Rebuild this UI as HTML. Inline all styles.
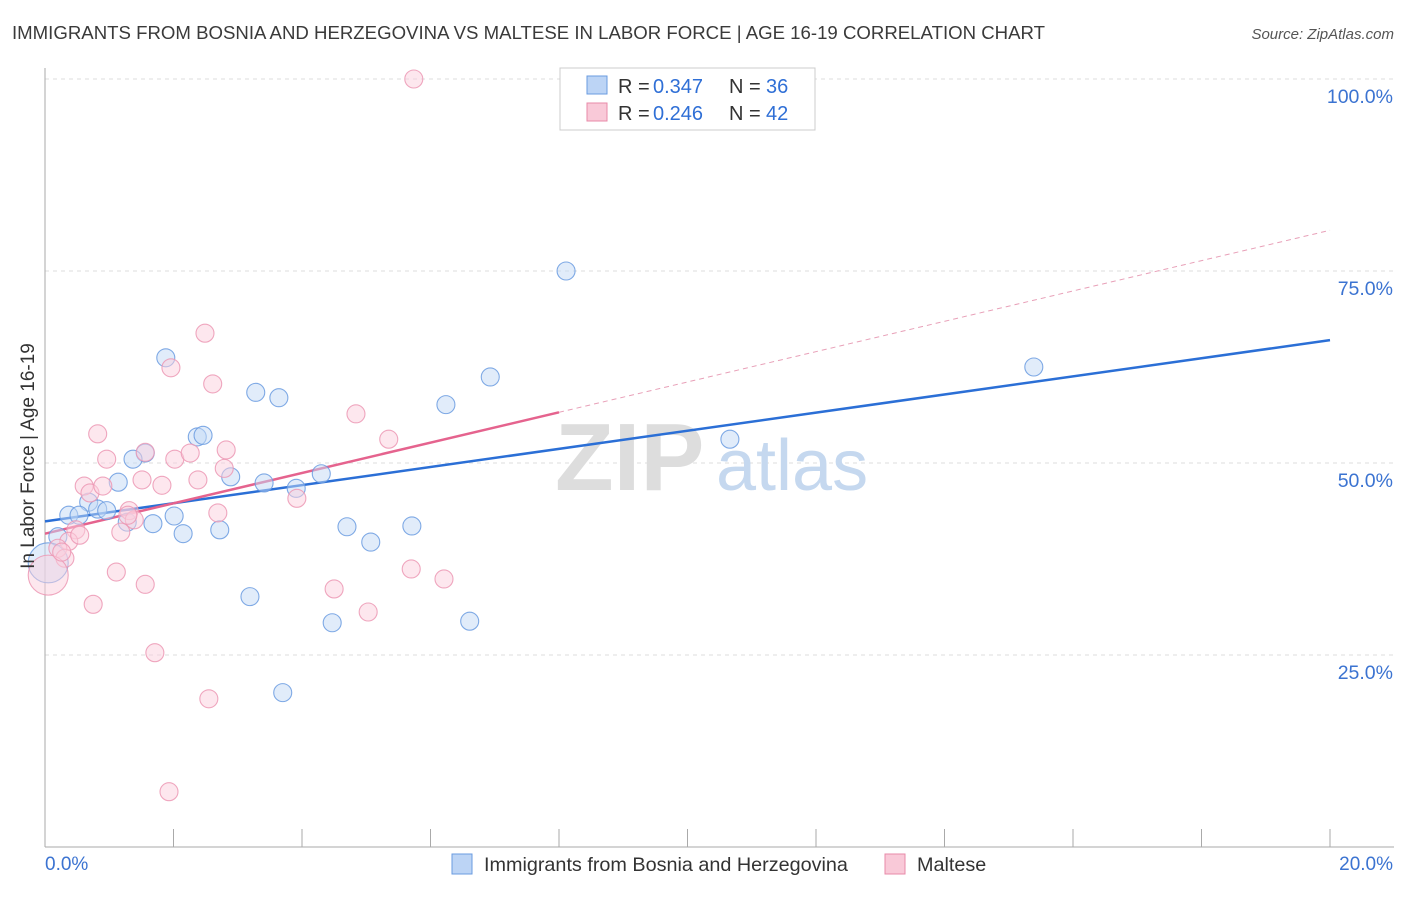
<!DOCTYPE html>
<html><head><meta charset="utf-8"><style>
body{margin:0;background:#fff;font-family:"Liberation Sans",sans-serif;}
svg text{font-family:"Liberation Sans",sans-serif;}
</style></head><body>
<svg id="chart" width="1406" height="892" xmlns="http://www.w3.org/2000/svg">
<text x="12" y="39" font-size="18.5" fill="#3a3a3a" textLength="1033" lengthAdjust="spacingAndGlyphs">IMMIGRANTS FROM BOSNIA AND HERZEGOVINA VS MALTESE IN LABOR FORCE | AGE 16-19 CORRELATION CHART</text>
<text x="1394" y="39" font-size="15" fill="#555" text-anchor="end" font-style="italic">Source: ZipAtlas.com</text>
<g id="grid"></g>
<g>
<text x="555" y="490" font-size="96" fill="#ddd" font-family="Liberation Serif" font-weight="bold">ZIP</text>
<text x="716" y="490" font-size="72" fill="#c5d8ef" >atlas</text>
</g>
<g id="lines"></g>
<g id="points"></g>
<text transform="translate(34,456) rotate(-90)" font-size="19" fill="#333" text-anchor="middle">In Labor Force | Age 16-19</text>
<g>
<rect x="560" y="68" width="255" height="62" fill="#fff" stroke="#ccc"/>
<rect x="587" y="76" width="20" height="18" fill="#bcd4f5" stroke="#6a9be0"/>
<rect x="587" y="103" width="20" height="18" fill="#f9c9d8" stroke="#e88aa8"/>
<text x="618" y="93" font-size="20" fill="#333">R = </text><text x="653" y="93" font-size="20" fill="#2f6fd6">0.347</text>
<text x="729" y="93" font-size="20" fill="#333">N = </text><text x="766" y="93" font-size="20" fill="#2f6fd6">36</text>
<text x="618" y="120" font-size="20" fill="#333">R = </text><text x="653" y="120" font-size="20" fill="#2f6fd6">0.246</text>
<text x="729" y="120" font-size="20" fill="#333">N = </text><text x="766" y="120" font-size="20" fill="#2f6fd6">42</text>
</g>
<g>
<rect x="452" y="854" width="20" height="20" fill="#bcd4f5" stroke="#6a9be0"/>
<text x="484" y="871" font-size="19.8" fill="#333">Immigrants from Bosnia and Herzegovina</text>
<rect x="885" y="854" width="20" height="20" fill="#f9c9d8" stroke="#e88aa8"/>
<text x="917" y="871" font-size="19.8" fill="#333">Maltese</text>
</g>
</svg>
<script>
const yTicks=[25,50,75,100];
const yTickLabels=["25.0%","50.0%","75.0%","100.0%"];
const xTickLabels=["0.0%","20.0%"];
const blueX=[1.88,1.56,1.37,1.14,0.68,0.37,0.53,0.82,0.96,1.28,1.68,2.01,2.15,2.37,2.46,2.89,2.72,3.28,3.64,3.41,3.91,4.30,3.19,3.70,4.70,5.07,4.47,5.71,6.24,6.93,6.61,8.11,10.66,15.39,0.20,0.05];
const blueY=[63.7,51.3,50.5,47.5,44.9,43.2,43.2,44.0,43.8,42.3,42.1,43.1,40.8,53.4,53.6,48.2,41.3,59.2,58.5,47.4,46.7,48.6,32.6,20.1,41.7,39.7,29.2,41.8,57.6,61.2,29.4,75.0,53.1,62.5,40.4,37.0];
const blueBig=[35];
const pinkX=[5.74,2.49,1.96,2.61,0.82,0.96,1.56,2.02,2.26,2.82,2.79,4.84,5.35,0.61,0.70,0.90,1.51,1.82,2.38,2.69,1.31,1.39,1.18,0.48,0.37,0.54,0.20,0.31,1.11,1.56,0.75,1.71,2.55,1.93,3.92,4.50,5.03,5.70,6.21,0.05,0.26,1.29];
const pinkY=[100,66.9,62.4,60.3,53.8,50.5,51.4,50.5,51.3,51.7,49.3,56.4,53.1,47.0,46.1,47.0,47.8,47.1,47.8,43.5,43.8,42.6,41.0,41.3,39.8,40.6,38.9,37.6,35.8,34.2,31.6,25.3,19.3,7.2,45.4,33.6,30.6,36.2,34.9,35.4,38.4,43.2];
const pinkBig=[39];
const blueLine=[42.4,66.0];
const pinkLine=[40.8,80.3];
const pinkSolidEnd=8;

const NS="http://www.w3.org/2000/svg";
const X0=45,X1=1330,Y0=847,Y100=79;
const sx=v=>X0+(X1-X0)*v/20;
const sy=v=>Y0-(Y0-Y100)*v/100;
function mk(t,a,p){const e=document.createElementNS(NS,t);for(const k in a)e.setAttribute(k,a[k]);p.appendChild(e);return e;}
const grid=document.getElementById('grid');
yTicks.forEach((t,i)=>{
  const l=mk('line',{x1:X0,x2:1394,y1:sy(t),y2:sy(t),stroke:'#ddd','stroke-dasharray':'4,4'},grid);
  
  
  const tx=mk('text',{x:1393,y:sy(t)+24,'font-size':19.5,fill:'#3b73d1','text-anchor':'end'},grid);
  tx.textContent=yTickLabels[i];
  
  
});
const ax=mk('line',{x1:X0,x2:X0,y1:68,y2:Y0,stroke:'#aaa'},grid);


const bx=mk('line',{x1:X0,x2:1394,y1:Y0,y2:Y0,stroke:'#aaa'},grid);


for(let i=0;i<=10;i++){
  const t=mk('line',{x1:sx(i*2),x2:sx(i*2),y1:Y0,y2:Y0-18,stroke:'#aaa'},grid);
  
  
}
[[0,'start',0],[20,'end',1]].forEach(([v,anc,i])=>{
  const tx=mk('text',{x:sx(v)+(i?63:0),y:870,'font-size':19,fill:'#3b73d1','text-anchor':anc},grid);
  tx.textContent=xTickLabels[i];
  
  
});
const pts=document.getElementById('points');
function drawPts(xs,ys,big,fill,stroke,name){
  xs.forEach((x,i)=>{
    const c=mk('circle',{cx:sx(x),cy:sy(ys[i]),r:big.includes(i)?20:9,fill:fill,'fill-opacity':0.5,stroke:stroke,'stroke-opacity':0.85,'stroke-width':1.1},pts);
    
    
  });
}
drawPts(blueX,blueY,blueBig,'#c4d9f5','#6a9be0','bosnia-point');
drawPts(pinkX,pinkY,pinkBig,'#fbd0de','#ec98b4','maltese-point');
const lines=document.getElementById('lines');
const bl=mk('line',{x1:sx(0),y1:sy(blueLine[0]),x2:sx(20),y2:sy(blueLine[1]),stroke:'#2b6fd6','stroke-width':2.5},lines);


const pAt=v=>pinkLine[0]+(pinkLine[1]-pinkLine[0])*v/20;
const pl=mk('line',{x1:sx(0),y1:sy(pAt(0)),x2:sx(pinkSolidEnd),y2:sy(pAt(pinkSolidEnd)),stroke:'#e5638e','stroke-width':2.5},lines);


const pd=mk('line',{x1:sx(pinkSolidEnd),y1:sy(pAt(pinkSolidEnd)),x2:sx(20),y2:sy(pAt(20)),stroke:'#e8a0b8','stroke-width':1,'stroke-dasharray':'5,4'},lines);


</script>
</body></html>
